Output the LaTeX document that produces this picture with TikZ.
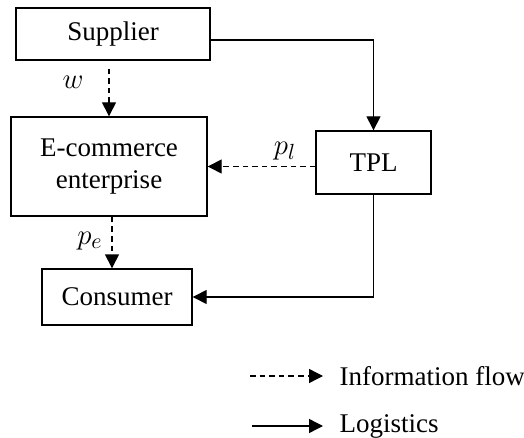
\documentclass[tikz,border=0pt]{standalone}
\usepackage{fontspec}
\setmainfont{Liberation Serif}
\usetikzlibrary{arrows.meta}

\begin{document}
\begin{tikzpicture}[x=0.5pt, y=-0.5pt, line width=0.7pt,
    box/.style={draw, rectangle, align=center, inner sep=0pt},
    info/.style={-{Triangle[length=7pt, width=7pt]}, dash pattern=on 2.8pt off 2pt},
    flow/.style={-{Triangle[length=7pt, width=7pt]}},
    lbl/.style={font=\fontsize{15.5}{18}\selectfont},
    font=\fontsize{13.5}{16}\selectfont]
                    \useasboundingbox (0,0) rectangle (524,438);
                    \node[box, minimum width=97pt, minimum height=26pt] (sup) at (113,34) {Supplier};
                    \node[box, minimum width=98pt, minimum height=49.5pt] (ecom) at (109,166.5) {E-commerce\\enterprise};
                    \node[box, minimum width=57.5pt, minimum height=31.5pt] (tpl) at (373.5,162.5) {TPL};
                    \node[box, minimum width=75pt, minimum height=28pt] (cons) at (117,297) {Consumer};
                    \draw[flow] ([yshift=-3pt]sup.east) -| (tpl.north);
                    \draw[info, shorten <=4pt] (sup.south -| ecom.north) -- (ecom.north);
                    \node[lbl] (w) at (73,82) {$w$};
                    \draw[info] (tpl.west |- ecom.east) -- (ecom.east);
                    \node[lbl] (pl) at (285,151) {$p_l$};
                    \draw[info] ([xshift=1.5pt]ecom.south) -- ([xshift=1.5pt]ecom.south |- cons.north);
                    \node[lbl] (pe) at (90,241) {$p_e$};
                    \draw[flow] (tpl.south) |- (cons.east);
                    % legend
                    \coordinate (l1) at (250,376);
                    \node[anchor=west, inner sep=0pt] (l1txt) at (339,376) {Information flow};
                    \draw[info] (l1) -- ([xshift=-8pt]l1txt.west);
                    \coordinate (l2) at (252,426);
                    \node[anchor=west, inner sep=0pt] (l2txt) at (339,426) {Logistics};
                    \draw[flow] (l2) -- ([xshift=-8pt]l2txt.west);
                \end{tikzpicture}
\end{document}
